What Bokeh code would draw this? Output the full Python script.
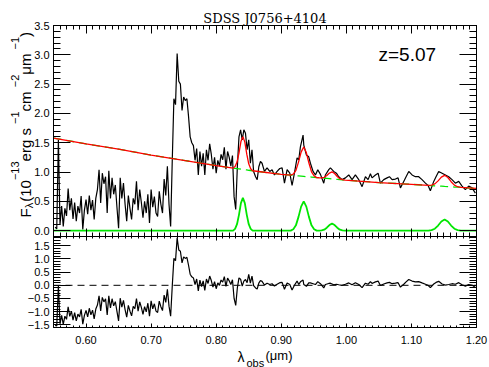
import math
from bokeh.plotting import figure
from bokeh.models import (LinearAxis, FixedTicker, Label, Range1d,
                          PrintfTickFormatter)
from bokeh.embed import file_html
from bokeh.resources import INLINE

# ---------------- data ----------------
# optical (SDSS) part: regular sampling
sdss_start = 0.5525
sdss_step = 0.0025
sdss_flux = [
    0.06, 0.03, 1.55, 0.10, 0.42, 0.07, 0.38, 0.25, 0.72, 0.35,
    0.55, 0.20, 0.48, 0.16, 0.42, 0.30, 0.59, 0.02, 0.35, 0.53,
    0.28, 0.60, 0.35, 0.52, 0.19, 0.55, 0.70, 1.04, 0.47, 0.98,
    0.80, 0.92, 0.30, 1.02, 0.55, 0.90, 0.62, 0.78, 0.40, 0.04,
    0.90, 0.55, 0.81, 0.45, 0.16, 0.60, 0.38, 0.19, 0.55, 0.45,
    0.84, 0.35, 0.70, 0.48, 0.22, 0.50, 0.30, 0.62, 0.13, 0.70,
    0.40, 0.58, 0.30, 0.24, 0.67, 0.45, 0.30, 0.88, 0.60, 1.10,
    0.45, 0.07, 1.20, 2.25, 2.15, 3.02, 2.55, 2.50, 2.05, 2.28,
    2.22, 2.25, 1.95, 1.60, 1.50, 1.45, 1.20, 1.40, 0.95, 1.35,
    1.10, 1.32, 0.95, 1.38, 1.20, 1.48, 1.30, 1.05, 1.25, 0.98,
    1.20, 1.10, 1.30, 1.21, 1.42, 1.05, 1.35, 1.25, 1.10, 1.28,
    0.58, 0.36, 1.09, 1.60, 1.72, 1.55, 1.72, 1.66, 1.38, 1.55,
    1.15, 1.38, 1.01,
]
sdss_resid = [
    -1.52, -1.54, -0.02, -1.46, -1.14, -1.48, -1.17, -1.29, -0.82, -1.18,
    -0.98, -1.32, -1.04, -1.35, -1.09, -1.20, -0.91, -1.47, -1.14, -0.95,
    -1.20, -0.87, -1.12, -0.94, -1.27, -0.90, -0.75, -0.40, -0.97, -0.46,
    -0.63, -0.51, -1.12, -0.40, -0.86, -0.51, -0.78, -0.62, -0.99, -1.35,
    -0.49, -0.83, -0.57, -0.92, -1.21, -0.76, -0.98, -1.16, -0.80, -0.89,
    -0.50, -0.98, -0.63, -0.84, -1.10, -0.81, -1.01, -0.68, -1.17, -0.59,
    -0.89, -0.70, -0.98, -1.03, -0.60, -0.81, -0.96, -0.37, -0.65, -0.15,
    -0.79, -1.17, -0.03, 1.02, 0.93, 1.80, 1.34, 1.29, 0.85, 1.08,
    1.02, 1.06, 0.76, 0.42, 0.32, 0.28, 0.03, 0.24, -0.21, 0.20,
    -0.05, 0.17, -0.19, 0.24, 0.07, 0.35, 0.18, -0.07, 0.14, -0.13,
    0.09, 0.00, 0.20, 0.12, 0.33, -0.04, 0.27, 0.17, 0.03, 0.21,
    -0.50, -0.76, -0.10, 0.28, 0.23, -0.03, 0.16, 0.22, 0.10, 0.41,
    0.08, 0.35, -0.01,
]
sdss_wave = [round(sdss_start + sdss_step * i, 4) for i in range(len(sdss_flux))]

# near-infrared part
ir_wave = [
    0.8605, 0.8630, 0.8655, 0.8680, 0.8705, 0.8741, 0.8782, 0.8823, 0.8859, 0.8895,
    0.8936, 0.8977, 0.9013, 0.9049, 0.9090, 0.9131, 0.9166, 0.9202, 0.9243, 0.9269,
    0.9294, 0.9335, 0.9346, 0.9387, 0.9422, 0.9448, 0.9489, 0.9525, 0.9561, 0.9602,
    0.9653, 0.9678, 0.9730, 0.9755, 0.9806, 0.9847, 0.9883, 0.9934, 0.9986, 1.0037,
    1.0088, 1.0139, 1.0191, 1.0242, 1.0293, 1.0334, 1.0370, 1.0395, 1.0447, 1.0488,
    1.0523, 1.0575, 1.0626, 1.0662, 1.0703, 1.0754, 1.0795, 1.0831, 1.0882, 1.0918,
    1.0959, 1.1010, 1.1061, 1.1112, 1.1163, 1.1215, 1.1256, 1.1291, 1.1343, 1.1378,
    1.1419, 1.1471, 1.1522, 1.1573, 1.1624, 1.1675, 1.1727, 1.1778, 1.1829, 1.1880,
    1.1931, 1.1983,
]
ir_flux = [
    0.92, 0.87, 1.09, 1.18, 1.15, 1.01, 1.07, 1.01, 1.04, 0.95,
    1.01, 1.06, 1.07, 0.81, 1.04, 0.98, 0.77, 0.98, 1.24, 1.21,
    1.43, 1.63, 1.46, 1.29, 1.26, 1.15, 1.01, 0.95, 1.04, 0.96,
    0.81, 0.95, 1.04, 1.07, 1.01, 0.98, 0.92, 0.87, 0.90, 0.95,
    0.87, 0.95, 0.87, 0.75, 0.92, 0.87, 0.97, 0.90, 0.95, 0.98,
    0.81, 0.87, 0.90, 0.92, 0.87, 0.88, 0.90, 0.73, 0.84, 0.92,
    1.01, 0.95, 0.92, 0.92, 0.87, 0.81, 0.77, 0.68, 0.84, 0.92,
    1.01, 0.98, 0.95, 0.92, 0.87, 0.81, 0.84, 0.76, 0.70, 0.76,
    0.73, 0.64,
]
ir_resid = [
    -0.10, -0.14, 0.08, 0.18, 0.15, 0.01, 0.08, 0.03, 0.06, -0.03,
    0.04, 0.10, 0.11, -0.15, 0.09, 0.03, -0.18, 0.00, 0.16, 0.03,
    0.13, 0.20, 0.03, -0.04, 0.09, 0.09, 0.06, 0.03, 0.14, 0.06,
    -0.10, 0.03, 0.07, 0.08, 0.02, 0.04, 0.02, 0.00, 0.04, 0.09,
    0.02, 0.10, 0.03, -0.09, 0.08, 0.04, 0.14, 0.07, 0.13, 0.16,
    -0.01, 0.05, 0.09, 0.11, 0.06, 0.08, 0.10, -0.07, 0.04, 0.13,
    0.22, 0.16, 0.13, 0.14, 0.09, 0.04, 0.00, -0.09, 0.05, 0.11,
    0.15, 0.05, 0.01, 0.03, 0.06, 0.04, 0.10, 0.02, -0.03, 0.03,
    0.01, -0.08,
]

# model curves (continuum, emission lines, total)
model_wave = [
    0.55, 0.60, 0.65, 0.70, 0.75, 0.80,
    0.826, 0.829, 0.832, 0.835, 0.838, 0.841, 0.844, 0.847, 0.850, 0.853, 0.856,
    0.90,
    0.9145, 0.9185, 0.9225, 0.9265, 0.9305, 0.9345, 0.9385, 0.9425, 0.9465, 0.9505, 0.9545,
    0.958, 0.962, 0.966, 0.970, 0.974, 0.978, 0.982, 0.986, 0.990, 0.994, 0.998,
    1.05, 1.10,
    1.126, 1.131, 1.136, 1.141, 1.146, 1.151, 1.156, 1.161, 1.166, 1.171, 1.176,
    1.20,
]
model_cont = [
    1.58, 1.48, 1.39, 1.29, 1.20, 1.11,
    1.068, 1.064, 1.059, 1.054, 1.049, 1.044, 1.040, 1.035, 1.030, 1.026, 1.022,
    0.96,
    0.946, 0.942, 0.938, 0.934, 0.930, 0.926, 0.922, 0.918, 0.914, 0.910, 0.905,
    0.902, 0.898, 0.894, 0.890, 0.886, 0.882, 0.878, 0.874, 0.870, 0.866, 0.862,
    0.82, 0.79,
    0.772, 0.769, 0.765, 0.762, 0.758, 0.754, 0.751, 0.748, 0.744, 0.741, 0.737,
    0.72,
]
model_lines = [
    0, 0, 0, 0, 0, 0,
    0, 0.03, 0.11, 0.27, 0.47, 0.56, 0.47, 0.27, 0.11, 0.03, 0,
    0,
    0, 0.024, 0.09, 0.235, 0.41, 0.50, 0.41, 0.235, 0.09, 0.024, 0,
    0, 0.003, 0.016, 0.05, 0.096, 0.12, 0.096, 0.05, 0.016, 0.003, 0,
    0, 0,
    0, 0.008, 0.033, 0.087, 0.156, 0.19, 0.156, 0.087, 0.033, 0.008, 0,
    0,
]
model_total = [
    1.58, 1.48, 1.39, 1.29, 1.20, 1.11,
    1.068, 1.094, 1.169, 1.324, 1.519, 1.604, 1.510, 1.305, 1.140, 1.056, 1.022,
    0.96,
    0.946, 0.966, 1.028, 1.169, 1.340, 1.426, 1.332, 1.153, 1.004, 0.934, 0.905,
    0.902, 0.901, 0.910, 0.940, 0.982, 1.002, 0.974, 0.924, 0.886, 0.869, 0.862,
    0.82, 0.79,
    0.772, 0.777, 0.798, 0.849, 0.914, 0.944, 0.907, 0.835, 0.777, 0.749, 0.737,
    0.72,
]

# axis extents and ticks
X0, X1 = 0.55, 1.20
Y1MIN, Y1MAX = -0.1, 3.5
Y2MIN, Y2MAX = -1.6, 1.85
x_major = [0.60, 0.70, 0.80, 0.90, 1.00, 1.10, 1.20]
x_minor = [round(0.55 + 0.01 * i, 2) for i in range(66)]
y1_major = [0.0, 0.5, 1.0, 1.5, 2.0, 2.5, 3.0, 3.5]
y1_minor = [round(-0.1 + 0.1 * i, 1) for i in range(37)]
y2_major = [-1.5, -1.0, -0.5, 0.0, 0.5, 1.0, 1.5]
y2_minor = [round(-1.6 + 0.1 * i, 1) for i in range(35)]
y2_labels = {-1.5: "\u22121.5", -1.0: "\u22121.0", -0.5: "\u22120.5", 0.0: "0.0",
             0.5: "0.5", 1.0: "1.0", 1.5: "1.5"}

title_text = "SDSS J0756+4104"
redshift_text = "z=5.07"

wave = sdss_wave + ir_wave
flux = sdss_flux + ir_flux
resid = sdss_resid + ir_resid

# ---------------- layout in pixels ----------------
W, H = 489, 367
L, R = 53, 476          # frame left / right
T1, B1 = 25, 236        # top panel top / bottom
B2 = 327                # bottom panel bottom

kx = (R - L) / (X1 - X0)
k1 = (B1 - T1) / (Y1MAX - Y1MIN)
k2 = (B2 - B1) / (Y2MAX - Y2MIN)
x_range = Range1d(X0 - L / kx, X1 + (W - R) / kx)
y_range = Range1d(Y1MIN - (H - B1) / k1, Y1MAX + T1 / k1)
y2_range = Range1d(Y2MIN - (H - B2) / k2, Y2MAX + B1 / k2)

GREEN = "#00e600"
RED = "#ff0000"
FONT = "Liberation Sans"

p = figure(width=W, height=H, x_range=x_range, y_range=y_range,
           extra_y_ranges={"resid": y2_range},
           output_backend="svg", toolbar_location=None,
           x_axis_location=None, y_axis_location=None,
           min_border=0, min_border_left=0, min_border_right=0,
           min_border_top=0, min_border_bottom=0)
p.grid.visible = False
p.outline_line_color = None
p.background_fill_color = "white"
p.border_fill_color = "white"


def add_axis(side, ticks, minor, loc, bounds, major_in, minor_in, labels=None,
             range_name="default", standoff=4):
    ax = LinearAxis(ticker=FixedTicker(ticks=ticks, minor_ticks=minor),
                    fixed_location=loc, bounds=bounds)
    if side in ("left", "right"):
        ax.y_range_name = range_name
    else:
        ax.y_range_name = range_name
    ax.major_tick_in = major_in
    ax.major_tick_out = 0
    ax.minor_tick_in = minor_in
    ax.minor_tick_out = 0
    ax.axis_line_color = "black"
    ax.major_tick_line_color = "black"
    ax.minor_tick_line_color = "black"
    if labels is None:
        ax.major_label_text_font_size = "0px"
        ax.major_label_text_alpha = 0
    else:
        if isinstance(labels, dict):
            ax.major_label_overrides = labels
        else:
            ax.formatter = PrintfTickFormatter(format=labels)
        ax.major_label_text_font = FONT
        ax.major_label_text_font_size = "11px"
        ax.major_label_text_color = "black"
        ax.major_label_standoff = standoff
    p.add_layout(ax, side)
    return ax


# top panel axes
add_axis("left", y1_major, y1_minor, X0, (Y1MIN, Y1MAX), 17, 7, labels="%.1f")
add_axis("right", y1_major, y1_minor, X1, (Y1MIN, Y1MAX), 17, 7)
add_axis("above", x_major, x_minor, Y1MAX, (X0, X1), 8, 4)
add_axis("below", x_major, x_minor, Y1MIN, (X0, X1), 8, 4)
# bottom panel axes
add_axis("left", y2_major, y2_minor, X0, (Y2MIN, Y2MAX), 17, 7, labels=y2_labels,
         range_name="resid")
add_axis("right", y2_major, y2_minor, X1, (Y2MIN, Y2MAX), 17, 7, range_name="resid")
add_axis("above", x_major, x_minor, Y2MAX, (X0, X1), 4, 2, range_name="resid")
add_axis("below", x_major, x_minor, Y2MIN, (X0, X1), 4, 2, labels="%.2f",
         range_name="resid", standoff=8)

# top panel curves
p.line(wave, flux, line_color="black", line_width=1.2)
p.line(model_wave, model_lines, line_color=GREEN, line_width=1.8)
p.line(model_wave, model_cont, line_color=GREEN, line_width=1.3, line_dash="8 5")
p.line(model_wave, model_total, line_color=RED, line_width=1.3)

# bottom panel: zero reference and residuals
p.line([X0, X1], [0, 0], y_range_name="resid", line_color="black",
       line_width=1, line_dash="7 5")
p.line(wave, resid, y_range_name="resid", line_color="black", line_width=1.2)


def screen_label(text, cx, cy, size, font=FONT, align="left", angle=0.0):
    """cx, cy: canvas pixels from top-left"""
    p.add_layout(Label(x=cx, y=H - cy, x_units="screen", y_units="screen", text=text,
                       angle=angle, text_font=font, text_font_size=size,
                       text_align=align, text_baseline="alphabetic",
                       text_color="black"))


screen_label(title_text, (L + R) / 2, 18, "13px", font="DejaVu Serif", align="center")
screen_label(redshift_text, 378, 54, "19px")

# rotated y-axis label: main / superscript / subscript pieces
ylabel_pieces = [
    ("F", 25, 217.0, "15px"),
    ("\u03bb", 28, 207.8, "11px"),
    ("(10", 25, 201.3, "15px"),
    ("\u221213", 14, 179.6, "11px"),
    (" erg s", 25, 160.9, "15px"),
    ("\u22121", 14, 123.4, "11px"),
    (" cm", 25, 110.9, "15px"),
    ("\u22122", 14, 86.7, "11px"),
    (" \u03bcm", 25, 74.2, "15px"),
    ("\u22121", 14, 48.9, "11px"),
    (")", 25, 36.4, "15px"),
]
for txt, cx, cy, fs in ylabel_pieces:
    screen_label(txt, cx, cy, fs, angle=math.pi / 2)

# x-axis label
xlabel_pieces = [
    ("\u03bb", 237, 356, "14px"),
    ("obs", 246, 362, "11px"),
    ("(\u03bcm)", 265, 355, "13px"),
]
for txt, cx, cy, fs in xlabel_pieces:
    screen_label(txt, cx, cy, fs)

open("out.html", "w").write(file_html(p, INLINE))
